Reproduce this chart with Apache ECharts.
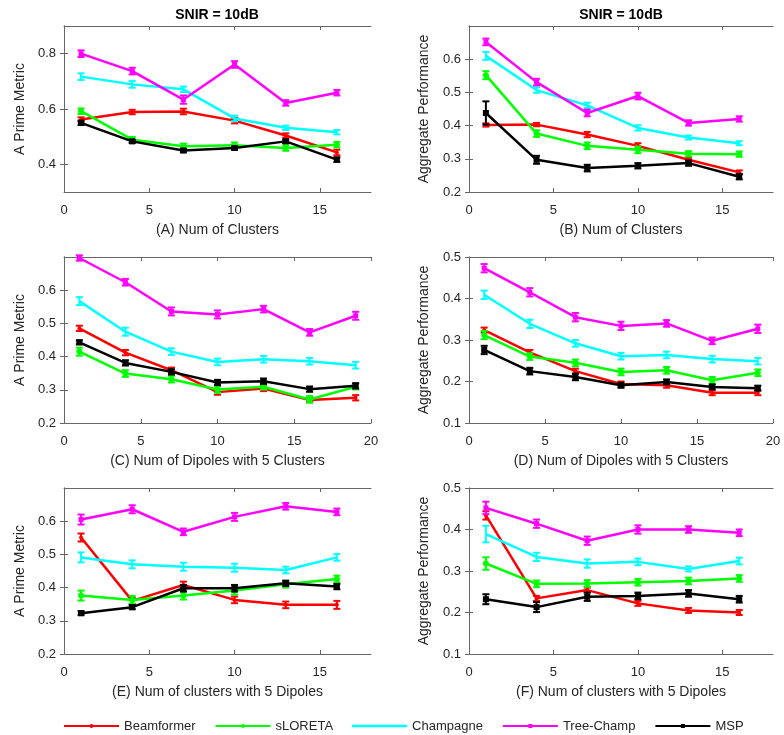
<!DOCTYPE html>
<html>
<head>
<meta charset="utf-8">
<script src="https://cdn.jsdelivr.net/npm/echarts@6/dist/echarts.min.js"></script>
<style>
  html, body { margin: 0; padding: 0; background: #fff; }
  #main { width: 784px; height: 735px; }
</style>
</head>
<body>
<div id="main"></div>
<script>
const methods = ['Beamformer', 'sLORETA', 'Champagne', 'Tree-Champ', 'MSP'];
const colors = ['#ff0000', '#00ff00', '#00ffff', '#ff00ff', '#000000'];

const x6 = [1, 4, 7, 10, 13, 16];
const x7 = [1, 4, 7, 10, 13, 16, 19];

// values per panel, order = methods
const valsA = [
    [0.562, 0.589, 0.591, 0.558, 0.504, 0.443],
    [0.592, 0.489, 0.465, 0.469, 0.459, 0.471],
    [0.717, 0.689, 0.671, 0.566, 0.532, 0.516],
    [0.800, 0.737, 0.634, 0.761, 0.622, 0.659],
    [0.550, 0.483, 0.450, 0.459, 0.483, 0.417]
];
const valsB = [
    [0.402, 0.403, 0.373, 0.339, 0.297, 0.259],
    [0.552, 0.376, 0.339, 0.327, 0.315, 0.314],
    [0.610, 0.507, 0.461, 0.393, 0.364, 0.347],
    [0.652, 0.531, 0.438, 0.489, 0.408, 0.420],
    [0.438, 0.297, 0.272, 0.279, 0.287, 0.246]
];
const valsC = [
    [0.485, 0.412, 0.359, 0.293, 0.304, 0.269, 0.276],
    [0.415, 0.349, 0.332, 0.301, 0.309, 0.271, 0.309],
    [0.567, 0.475, 0.415, 0.384, 0.392, 0.386, 0.374],
    [0.697, 0.624, 0.536, 0.527, 0.543, 0.473, 0.523],
    [0.443, 0.381, 0.354, 0.322, 0.326, 0.302, 0.312]
];
const valsD = [
    [0.324, 0.270, 0.225, 0.194, 0.191, 0.173, 0.173],
    [0.312, 0.260, 0.245, 0.223, 0.227, 0.203, 0.221],
    [0.409, 0.339, 0.292, 0.261, 0.264, 0.254, 0.249],
    [0.473, 0.415, 0.355, 0.334, 0.340, 0.298, 0.327],
    [0.276, 0.225, 0.211, 0.191, 0.199, 0.187, 0.184]
];
const valsE = [
    [0.551, 0.360, 0.408, 0.363, 0.348, 0.348],
    [0.376, 0.363, 0.376, 0.391, 0.410, 0.426],
    [0.491, 0.470, 0.463, 0.460, 0.453, 0.491],
    [0.605, 0.636, 0.568, 0.613, 0.645, 0.628],
    [0.323, 0.341, 0.398, 0.398, 0.413, 0.403]
];
const valsF = [
    [0.434, 0.234, 0.254, 0.222, 0.205, 0.200],
    [0.318, 0.269, 0.270, 0.273, 0.276, 0.282],
    [0.389, 0.334, 0.318, 0.322, 0.305, 0.324],
    [0.452, 0.414, 0.373, 0.400, 0.400, 0.392],
    [0.232, 0.213, 0.238, 0.240, 0.246, 0.232]
];

// half-length of error bars
const errA = [
    [0.008, 0.008, 0.010, 0.010, 0.008, 0.010],
    [0.010, 0.010, 0.010, 0.010, 0.010, 0.010],
    [0.012, 0.012, 0.010, 0.010, 0.008, 0.008],
    [0.012, 0.012, 0.015, 0.012, 0.010, 0.010],
    [0.008, 0.006, 0.006, 0.006, 0.006, 0.008]
];
const errB = [
    [0.005, 0.005, 0.008, 0.008, 0.006, 0.006],
    [0.012, 0.010, 0.010, 0.010, 0.008, 0.008],
    [0.012, 0.008, 0.008, 0.008, 0.006, 0.006],
    [0.010, 0.010, 0.010, 0.010, 0.008, 0.008],
    [0.035, 0.012, 0.010, 0.008, 0.008, 0.008]
];
const errC = [
    [0.008, 0.008, 0.008, 0.008, 0.008, 0.006, 0.008],
    [0.012, 0.010, 0.010, 0.010, 0.008, 0.010, 0.008],
    [0.012, 0.012, 0.010, 0.010, 0.010, 0.010, 0.010],
    [0.008, 0.010, 0.012, 0.012, 0.010, 0.010, 0.012],
    [0.006, 0.008, 0.008, 0.008, 0.008, 0.008, 0.008]
];
const errD = [
    [0.006, 0.006, 0.006, 0.006, 0.006, 0.006, 0.006],
    [0.010, 0.008, 0.008, 0.008, 0.008, 0.008, 0.008],
    [0.010, 0.010, 0.008, 0.008, 0.008, 0.008, 0.008],
    [0.010, 0.010, 0.010, 0.010, 0.008, 0.008, 0.010],
    [0.010, 0.008, 0.008, 0.006, 0.006, 0.006, 0.006]
];
const errE = [
    [0.012, 0.010, 0.010, 0.010, 0.010, 0.012],
    [0.015, 0.012, 0.012, 0.012, 0.010, 0.010],
    [0.015, 0.012, 0.012, 0.012, 0.010, 0.010],
    [0.015, 0.012, 0.010, 0.012, 0.010, 0.010],
    [0.006, 0.006, 0.010, 0.010, 0.008, 0.008]
];
const errF = [
    [0.010, 0.006, 0.006, 0.006, 0.006, 0.006],
    [0.015, 0.008, 0.008, 0.008, 0.008, 0.008],
    [0.020, 0.010, 0.010, 0.008, 0.006, 0.008],
    [0.015, 0.010, 0.010, 0.010, 0.008, 0.008],
    [0.012, 0.012, 0.010, 0.008, 0.008, 0.008]
];

const xTicks18 = [0, 5, 10, 15];
const xTicks20 = [0, 5, 10, 15, 20];
const yTicksA = [0.4, 0.6, 0.8];
const yTicks26 = [0.2, 0.3, 0.4, 0.5, 0.6];
const yTicks15 = [0.1, 0.2, 0.3, 0.4, 0.5];

const panels = [
    { x: x6, vals: valsA, err: errA, xMax: 18, xTicks: xTicks18, yMin: 0.3, yMax: 0.9, yTicks: yTicksA,
      xName: '(A) Num of Clusters', yName: 'A Prime Metric', left: 64, top: 26, width: 307 },
    { x: x6, vals: valsB, err: errB, xMax: 18, xTicks: xTicks18, yMin: 0.2, yMax: 0.7, yTicks: yTicks26,
      xName: '(B) Num of Clusters', yName: 'Aggregate Performance', left: 469, top: 26, width: 304 },
    { x: x7, vals: valsC, err: errC, xMax: 20, xTicks: xTicks20, yMin: 0.2, yMax: 0.7, yTicks: yTicks26,
      xName: '(C) Num of Dipoles with 5 Clusters', yName: 'A Prime Metric', left: 64, top: 257, width: 307 },
    { x: x7, vals: valsD, err: errD, xMax: 20, xTicks: xTicks20, yMin: 0.1, yMax: 0.5, yTicks: yTicks15,
      xName: '(D) Num of Dipoles with 5 Clusters', yName: 'Aggregate Performance', left: 469, top: 257, width: 304 },
    { x: x6, vals: valsE, err: errE, xMax: 18, xTicks: xTicks18, yMin: 0.2, yMax: 0.7, yTicks: yTicks26,
      xName: '(E) Num of clusters with 5 Dipoles', yName: 'A Prime Metric', left: 64, top: 488, width: 307 },
    { x: x6, vals: valsF, err: errF, xMax: 18, xTicks: xTicks18, yMin: 0.1, yMax: 0.5, yTicks: yTicks15,
      xName: '(F) Num of clusters with 5 Dipoles', yName: 'Aggregate Performance', left: 469, top: 488, width: 304 }
];

const symbols = ['circle', 'circle', 'none', 'rect', 'rect'];
const symbolSizes = [4, 6, 0, 5, 6];

const FONT = "'Liberation Sans', Arial, Helvetica, sans-serif";
const TXT = '#262626';
const AXC = '#666666';

function renderErr(params, api) {
    const x = api.value(0);
    const top = api.coord([x, api.value(2)]);
    const bot = api.coord([x, api.value(1)]);
    const w = 3.5;
    const style = { stroke: api.visual('color'), lineWidth: 2 };
    return {
        type: 'group',
        children: [
            { type: 'line', shape: { x1: top[0], y1: top[1], x2: bot[0], y2: bot[1] }, style: style },
            { type: 'line', shape: { x1: top[0] - w, y1: top[1], x2: top[0] + w, y2: top[1] }, style: style },
            { type: 'line', shape: { x1: bot[0] - w, y1: bot[1], x2: bot[0] + w, y2: bot[1] }, style: style }
        ]
    };
}

const chart = echarts.init(document.getElementById('main'));

const grid = [], xAxis = [], yAxis = [], lineSeries = [], errSeries = [];

panels.forEach((p, i) => {
    grid.push({ left: p.left, top: p.top, width: p.width, height: 166 });
    const tickStyle = { show: true, inside: true, length: 4, lineStyle: { color: AXC } };
    const lineStyle = { show: true, lineStyle: { color: AXC, width: 1 } };
    xAxis.push({
        type: 'value', gridIndex: i, min: 0, max: p.xMax, position: 'bottom',
        name: p.xName, nameLocation: 'middle', nameGap: 31,
        nameTextStyle: { fontFamily: FONT, fontSize: 14, color: TXT },
        axisLine: lineStyle, axisTick: Object.assign({ customValues: p.xTicks }, tickStyle),
        axisLabel: { customValues: p.xTicks, fontFamily: FONT, fontSize: 13, color: TXT, margin: 12 },
        splitLine: { show: false }
    });
    xAxis.push({
        type: 'value', gridIndex: i, min: 0, max: p.xMax, position: 'top',
        axisLine: lineStyle, axisTick: Object.assign({ customValues: p.xTicks }, tickStyle),
        axisLabel: { show: false }, splitLine: { show: false }
    });
    yAxis.push({
        type: 'value', gridIndex: i, min: p.yMin, max: p.yMax, position: 'left',
        name: p.yName, nameLocation: 'middle', nameGap: i % 2 === 0 ? 37 : 38,
        nameTextStyle: { fontFamily: FONT, fontSize: 14, color: TXT },
        axisLine: lineStyle, axisTick: Object.assign({ customValues: p.yTicks }, tickStyle),
        axisLabel: { customValues: p.yTicks, fontFamily: FONT, fontSize: 13, color: TXT, margin: 8,
            formatter: v => v.toFixed(1) },
        splitLine: { show: false }
    });
    yAxis.push({
        type: 'value', gridIndex: i, min: p.yMin, max: p.yMax, position: 'right',
        axisLine: lineStyle, axisTick: Object.assign({ customValues: p.yTicks }, tickStyle),
        axisLabel: { show: false }, splitLine: { show: false }
    });

    methods.forEach((m, k) => {
        lineSeries.push({
            name: m, type: 'line', xAxisIndex: 2 * i, yAxisIndex: 2 * i,
            data: p.x.map((xv, j) => [xv, p.vals[k][j]]),
            symbol: symbols[k], symbolSize: symbolSizes[k], showSymbol: true,
            itemStyle: { color: colors[k] },
            lineStyle: { color: colors[k], width: 2.5 },
            z: 2 + k
        });
        errSeries.push({
            name: m + ' err', type: 'custom', xAxisIndex: 2 * i, yAxisIndex: 2 * i,
            renderItem: renderErr,
            itemStyle: { color: colors[k] },
            data: p.x.map((xv, j) => [xv, p.vals[k][j] - p.err[k][j], p.vals[k][j] + p.err[k][j]]),
            z: 2 + k
        });
    });
});

// legend entries: small markers, none for Champagne
const legendData = methods.map((m, k) => k === 2
    ? { name: m, icon: 'path://M0,0h44v2h-44z' }
    : { name: m });

chart.setOption({
    animation: false,
    backgroundColor: '#ffffff',
    graphic: [
        { type: 'text', x: 217, y: 15, style: { text: 'SNIR = 10dB', align: 'center', verticalAlign: 'middle',
            font: "bold 14px 'Liberation Sans', Arial, sans-serif", fill: '#000' } },
        { type: 'text', x: 621, y: 15, style: { text: 'SNIR = 10dB', align: 'center', verticalAlign: 'middle',
            font: "bold 14px 'Liberation Sans', Arial, sans-serif", fill: '#000' } }
    ],
    legend: {
        data: legendData,
        left: 63, top: 719.5, padding: 0,
        itemWidth: 55, itemHeight: 5, itemGap: 19,
        textStyle: { fontFamily: FONT, fontSize: 13, color: TXT }
    },
    grid: grid,
    xAxis: xAxis,
    yAxis: yAxis,
    series: lineSeries.concat(errSeries)
});
</script>
</body>
</html>
